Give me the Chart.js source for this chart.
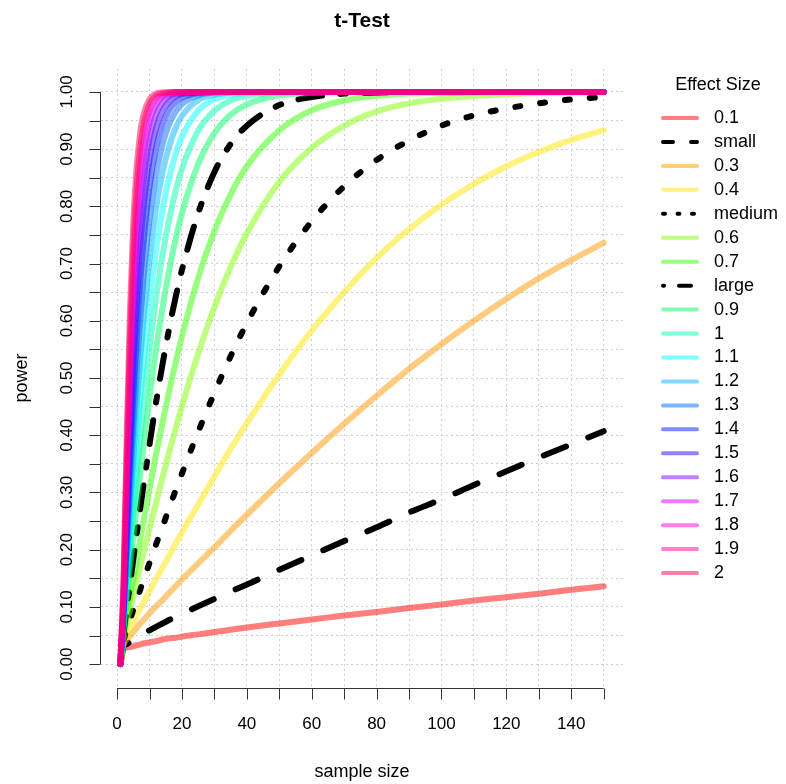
<!DOCTYPE html>
<html>
<head>
<meta charset="utf-8">
<title>t-Test</title>
<script src="https://cdn.jsdelivr.net/npm/chart.js@4.4.1/dist/chart.umd.min.js"></script>
<style>
  html, body { margin: 0; padding: 0; background: #fff; }
  canvas { display: block; }
</style>
</head>
<body>
<canvas id="powerChart" width="786" height="784"></canvas>
<script>
// sample size per group
const sampleSizes = [1, 2, 3, 4, 5, 6, 7, 8, 10, 12, 14, 16, 18, 20, 25, 30, 35, 40, 50, 60, 70, 80, 90, 100, 110, 120, 130, 140, 150];

const effectLabels = ["0.1", "small", "0.3", "0.4", "medium", "0.6", "0.7", "large", "0.9", "1",
  "1.1", "1.2", "1.3", "1.4", "1.5", "1.6", "1.7", "1.8", "1.9", "2"];

// power
const p01 = [0, .027, .029, .030, .031, .033, .034, .036, .038, .040, .043, .045, .046, .048, .052, .056, .060, .064, .071, .078, .085, .091, .098, .104, .111, .117, .123, .130, .136];
const p02 = [0, .030, .035, .039, .042, .046, .050, .053, .059, .065, .071, .077, .082, .088, .101, .114, .127, .139, .165, .190, .215, .239, .265, .288, .313, .337, .361, .384, .407];
const p03 = [0, .033, .043, .049, .056, .063, .070, .076, .089, .101, .112, .124, .136, .148, .176, .204, .233, .261, .316, .369, .420, .469, .516, .559, .600, .638, .674, .706, .736];
const p04 = [0, .036, .051, .062, .073, .085, .096, .106, .127, .148, .169, .189, .210, .230, .279, .328, .376, .421, .506, .583, .650, .710, .760, .803, .839, .870, .895, .916, .933];
const p05 = [0, .040, .061, .078, .095, .111, .128, .144, .177, .209, .240, .272, .303, .333, .406, .474, .538, .596, .695, .774, .835, .881, .915, .941, .959, .971, .980, .987, .991];
const p06 = [0, .044, .073, .096, .120, .144, .167, .191, .237, .282, .326, .369, .411, .451, .543, .624, .694, .753, .843, .902, .941, .966, .980, .988, .993, .996, .998, .999, .999];
const p07 = [0, .049, .085, .117, .149, .181, .214, .245, .306, .366, .422, .476, .526, .573, .675, .757, .821, .870, .933, .968, .985, .993, .997, .998, .999, 1, 1, 1, 1];
const p08 = [0, .055, .100, .141, .184, .225, .267, .307, .384, .457, .524, .585, .640, .689, .788, .860, .909, .941, .977, .991, .997, .999, 1, 1, 1, 1, 1, 1, 1];
const p09 = [0, .060, .117, .170, .222, .275, .326, .375, .467, .550, .623, .687, .742, .788, .874, .928, .960, .978, .994, .998, 1, 1, 1, 1, 1, 1, 1, 1, 1];
const p10 = [0, .066, .135, .199, .265, .329, .389, .447, .551, .640, .715, .776, .826, .866, .932, .967, .985, .993, .999, 1, 1, 1, 1, 1, 1, 1, 1, 1, 1];
const p11 = [0, .073, .155, .233, .312, .386, .456, .520, .633, .723, .794, .849, .891, .922, .967, .987, .995, .998, 1, 1, 1, 1, 1, 1, 1, 1, 1, 1, 1];
const p12 = [0, .080, .176, .270, .362, .447, .524, .593, .709, .796, .859, .904, .936, .958, .986, .995, .999, 1, 1, 1, 1, 1, 1, 1, 1, 1, 1, 1, 1];
const p13 = [0, .087, .199, .310, .414, .508, .591, .663, .777, .855, .908, .943, .965, .979, .994, .999, 1, 1, 1, 1, 1, 1, 1, 1, 1, 1, 1, 1, 1];
const p14 = [0, .095, .224, .351, .468, .570, .656, .728, .834, .902, .943, .968, .982, .990, .998, 1, 1, 1, 1, 1, 1, 1, 1, 1, 1, 1, 1, 1, 1];
const p15 = [0, .103, .251, .395, .523, .630, .717, .786, .882, .937, .967, .983, .992, .996, .999, 1, 1, 1, 1, 1, 1, 1, 1, 1, 1, 1, 1, 1, 1];
const p16 = [0, .112, .280, .440, .577, .686, .772, .836, .918, .961, .982, .992, .996, .998, 1, 1, 1, 1, 1, 1, 1, 1, 1, 1, 1, 1, 1, 1, 1];
const p17 = [0, .121, .310, .486, .630, .739, .820, .878, .946, .977, .991, .996, .999, 1, 1, 1, 1, 1, 1, 1, 1, 1, 1, 1, 1, 1, 1, 1, 1];
const p18 = [0, .131, .342, .532, .680, .787, .861, .911, .965, .987, .995, .998, 1, 1, 1, 1, 1, 1, 1, 1, 1, 1, 1, 1, 1, 1, 1, 1, 1];
const p19 = [0, .142, .374, .578, .727, .829, .896, .937, .979, .993, .998, .999, 1, 1, 1, 1, 1, 1, 1, 1, 1, 1, 1, 1, 1, 1, 1, 1, 1];
const p20 = [0, .153, .408, .622, .771, .866, .923, .957, .987, .997, .999, 1, 1, 1, 1, 1, 1, 1, 1, 1, 1, 1, 1, 1, 1, 1, 1, 1, 1];

const powerSeries = [p01, p02, p03, p04, p05, p06, p07, p08, p09, p10,
  p11, p12, p13, p14, p15, p16, p17, p18, p19, p20];

const xTicks = [0, 10, 20, 30, 40, 50, 60, 70, 80, 90, 100, 110, 120, 130, 140, 150];
const xTickLabels = ["0", "20", "40", "60", "80", "100", "120", "140"];
const yTicks = [0, .05, .1, .15, .2, .25, .3, .35, .4, .45, .5, .55, .6, .65, .7, .75, .8, .85, .9, .95, 1];
const yTickLabels = ["0.00", "0.10", "0.20", "0.30", "0.40", "0.50", "0.60", "0.70", "0.80", "0.90", "1.00"];

// rainbow(20) with alpha 0.5, named effect sizes in black
const lineColors = [
  "rgba(255,0,0,0.5)", "#000000", "rgba(255,153,0,0.5)", "rgba(255,229,0,0.5)", "#000000",
  "rgba(128,255,0,0.5)", "rgba(51,255,0,0.5)", "#000000", "rgba(0,255,102,0.5)", "rgba(0,255,178,0.5)",
  "rgba(0,255,255,0.5)", "rgba(0,179,255,0.5)", "rgba(0,102,255,0.5)", "rgba(0,26,255,0.5)", "rgba(51,0,255,0.5)",
  "rgba(127,0,255,0.5)", "rgba(204,0,255,0.5)", "rgba(255,0,230,0.5)", "rgba(255,0,153,0.5)", "rgba(255,0,77,0.5)"
];
const plotDash = { 1: [24, 24], 4: [5, 20], 7: [6, 18, 24, 18] };
const legendDash = { 1: [10, 18], 4: [2, 12.5], 7: [1, 15, 12, 20] };

const FONT = '"Liberation Sans", Arial, sans-serif';

const rAxesPlugin = {
  id: "rAxes",
  afterDraw(chart) {
    const ctx = chart.ctx;
    const xs = chart.scales.x;
    const ys = chart.scales.y;
    const area = chart.chartArea;
    ctx.save();

    // axes lines and ticks
    ctx.strokeStyle = "#333";
    ctx.lineWidth = 1;
    const axY = Math.round(area.bottom) + 1.5;
    const axX = Math.round(area.left) - 0.5;
    ctx.beginPath();
    ctx.moveTo(xs.getPixelForValue(0), axY);
    ctx.lineTo(xs.getPixelForValue(150), axY);
    xTicks.forEach((v) => {
      const px = Math.round(xs.getPixelForValue(v)) + 0.5;
      ctx.moveTo(px, axY);
      ctx.lineTo(px, axY + 11);
    });
    ctx.moveTo(axX, ys.getPixelForValue(0));
    ctx.lineTo(axX, ys.getPixelForValue(1));
    yTicks.forEach((v) => {
      const py = Math.round(ys.getPixelForValue(v)) + 0.5;
      ctx.moveTo(axX, py);
      ctx.lineTo(axX - 11, py);
    });
    ctx.stroke();

    ctx.fillStyle = "#000";
    ctx.textAlign = "center";
    ctx.textBaseline = "middle";
    ctx.font = "17px " + FONT;
    xTickLabels.forEach((lab) => {
      ctx.fillText(lab, xs.getPixelForValue(parseFloat(lab)), 724);
    });
    yTickLabels.forEach((lab) => {
      ctx.save();
      ctx.translate(67, ys.getPixelForValue(parseFloat(lab)));
      ctx.rotate(-Math.PI / 2);
      ctx.fillText(lab, 0, 0);
      ctx.restore();
    });

    // titles
    const midX = (area.left + area.right) / 2;
    ctx.font = "18px " + FONT;
    ctx.fillText("sample size", midX, 772);
    ctx.save();
    ctx.translate(22, (area.top + area.bottom) / 2);
    ctx.rotate(-Math.PI / 2);
    ctx.fillText("power", 0, 0);
    ctx.restore();
    ctx.font = "bold 21px " + FONT;
    ctx.fillText("t-Test", midX, 21);

    // legend
    ctx.font = "18px " + FONT;
    ctx.fillText("Effect Size", 718, 85);
    ctx.textAlign = "left";
    ctx.lineCap = "round";
    effectLabels.forEach((lab, i) => {
      const ly = 118 + i * 23.95;
      ctx.beginPath();
      ctx.strokeStyle = lineColors[i];
      ctx.lineWidth = 4;
      ctx.setLineDash(legendDash[i] || []);
      ctx.moveTo(663, ly);
      ctx.lineTo(697, ly);
      ctx.stroke();
      ctx.fillText(lab, 714, ly);
    });
    ctx.restore();
  },
};

const datasets = powerSeries.map((vals, i) => ({
  label: effectLabels[i],
  data: sampleSizes.map((n, k) => ({ x: n, y: vals[k] })),
  borderColor: lineColors[i],
  borderWidth: 6,
  borderDash: plotDash[i] || [],
  borderCapStyle: "round",
  borderJoinStyle: "round",
  cubicInterpolationMode: "monotone",
  pointRadius: 0,
  fill: false,
  order: 20 - i,
}));

new Chart(document.getElementById("powerChart"), {
  type: "line",
  data: { datasets: datasets },
  options: {
    responsive: false,
    animation: false,
    devicePixelRatio: 1,
    layout: { padding: { left: 101, right: 163, top: 69, bottom: 97 } },
    plugins: { legend: { display: false }, tooltip: { enabled: false }, title: { display: false } },
    scales: {
      x: {
        type: "linear",
        min: -4.96,
        max: 155.96,
        afterBuildTicks: (s) => { s.ticks = xTicks.map((v) => ({ value: v })); },
        afterFit: (s) => { s.height = 0; },
        ticks: { display: false },
        grid: { color: "#d0d0d0", lineWidth: 1, drawTicks: false },
        border: { display: false, dash: [2, 3] },
      },
      y: {
        type: "linear",
        min: -0.04,
        max: 1.04,
        afterBuildTicks: (s) => { s.ticks = yTicks.map((v) => ({ value: v })); },
        afterFit: (s) => { s.width = 0; },
        ticks: { display: false },
        grid: { color: "#d0d0d0", lineWidth: 1, drawTicks: false },
        border: { display: false, dash: [2, 3] },
      },
    },
  },
  plugins: [rAxesPlugin],
});
</script>
</body>
</html>
